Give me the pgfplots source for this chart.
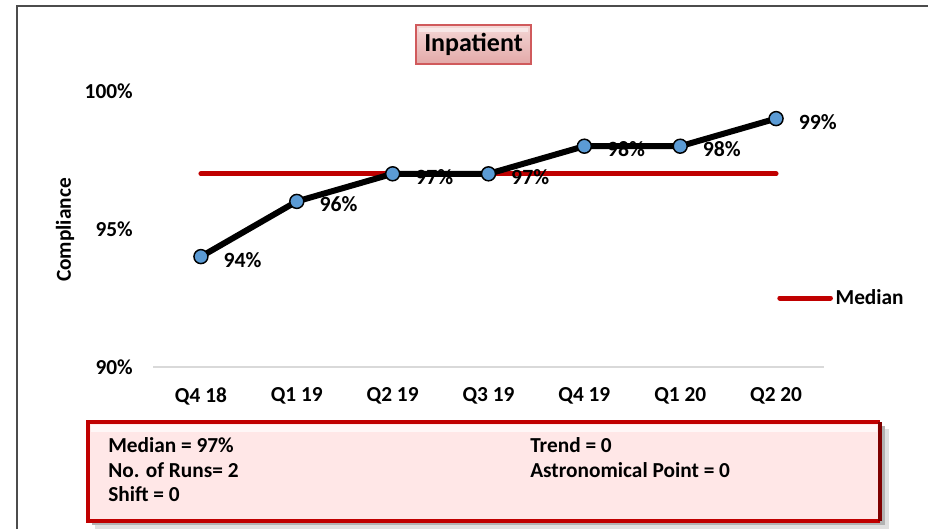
\documentclass[border=0pt]{standalone}
\usepackage{fontspec}
\setmainfont{Carlito}
\usepackage{pgfplots}
\pgfplotsset{compat=1.18}
\definecolor{medred}{HTML}{C00000}
\definecolor{darkred}{HTML}{7F0000}
\definecolor{ptblue}{HTML}{5B9BD5}
\definecolor{boxpink}{HTML}{FFE7E7}
\definecolor{titlered}{HTML}{D05A5C}
\definecolor{titletop}{HTML}{F4D7D6}
\definecolor{titlebot}{HTML}{E3A9A8}
\definecolor{gridgray}{HTML}{D9D9D9}

\begin{document}
\begin{tikzpicture}
% page layout in pixels of the 928x529 reference
\begin{scope}[x=0.75pt,y=-0.75pt]
  \useasboundingbox (0,0) rectangle (928,529);
  \draw[line width=1.6pt, black!70] (17,529) -- (17,6) -- (928,6);
  % title box
  \shade[top color=titletop, bottom color=titlebot] (416,25) rectangle (531,64);
  \fill[white, opacity=0.5] (419,28) rectangle (528,32);
  \draw[titlered, line width=2.2pt] (416,25) rectangle (531,64);
  \node[font=\bfseries\fontsize{19.5}{22}\selectfont] at (473.5,44.5) {Inpatient};
  % summary box
  \fill[black!12] (95,429) rectangle (889,529);
  \fill[black!30] (92,426) rectangle (885,525);
  \fill[boxpink] (88,422) rectangle (880,521);
  \fill[white, opacity=0.7] (91,425) rectangle (877,432);
  \draw[medred, line width=3.2pt] (880,521) -- (88,521) -- (88,422) -- (880,422);
  \draw[darkred, line width=3.2pt] (880,422) -- (880,521);
  \begin{scope}[every node/.style={anchor=west, inner sep=0pt,
      font=\bfseries\fontsize{16}{18}\selectfont}]
    \node at (108,445) {Median = 97\%};
    \node at (108,470) {No. of Runs= 2};
    \node at (108,494) {Shift = 0};
    \node at (530,445) {Trend = 0};
    \node at (530,470) {Astronomical Point = 0};
  \end{scope}
\end{scope}

\begin{axis}[
  at={(114.75pt,-275.25pt)}, anchor=south west,
  scale only axis, width=503.25pt, height=207pt,
  xmin=-0.5, xmax=6.5, ymin=90, ymax=100,
  clip=false,
  separate axis lines,
  axis x line*=bottom, axis y line*=left,
  x axis line style={draw=gridgray, line width=1.5pt},
  y axis line style={draw=none},
  major tick length=0pt,
  xtick={0,...,6},
  xticklabels={Q4 18, Q1 19, Q2 19, Q3 19, Q4 19, Q1 20, Q2 20},
  xticklabel style={anchor=center, inner sep=0pt, yshift=-21.75pt,
    font=\bfseries\fontsize{16}{18}\selectfont},
  ytick={90,95,100},
  yticklabel={\pgfmathprintnumber{\tick}\%},
  /pgf/number format/assume math mode=true,
  yticklabel style={anchor=east, inner sep=0pt, xshift=-15pt,
    font=\bfseries\fontsize{16}{18}\selectfont},
  ylabel={Compliance},
  ylabel style={at={(axis description cs:-0.131,0.496)}, anchor=center,
    font=\bfseries\fontsize{16}{18}\selectfont},
  legend style={at={(axis description cs:0.930,0.25)}, anchor=west,
    draw=none, fill=none, inner sep=0pt,
    font=\bfseries\fontsize{16}{18}\selectfont},
  legend image code/.code={\draw[#1] (0pt,0pt) -- (38pt,0pt);},
]
\addplot[medred, line width=3.75pt, line cap=round] coordinates {
  (0,97) (6,97)
};
\addlegendentry{Median}

\addplot[black, line width=4.5pt, line join=round,
  mark=*, mark size=5.25pt,
  mark options={fill=ptblue, draw=black, line width=1.1pt},
  point meta=y,
  nodes near coords={\pgfmathprintnumber{\pgfplotspointmeta}\%},
  every node near coord/.append style={anchor=west, inner sep=0pt,
    xshift=16.5pt, yshift=-2.25pt, text=black,
    font=\bfseries\fontsize{16.3}{18}\selectfont},
  forget plot] coordinates {
  (0,94) (1,96) (2,97) (3,97) (4,98) (5,98) (6,99)
};
\end{axis}
\end{tikzpicture}
\end{document}
